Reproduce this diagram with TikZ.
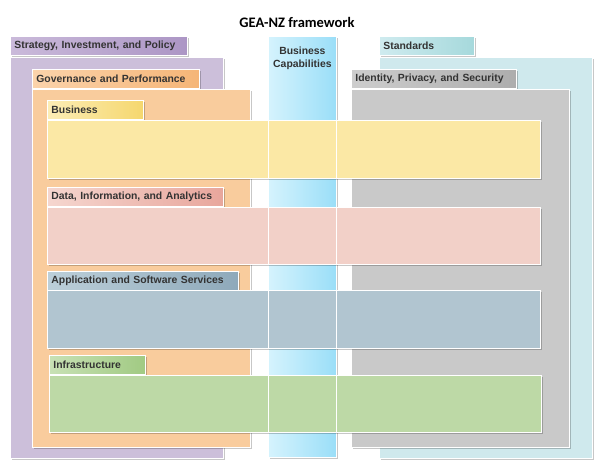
\documentclass[tikz,border=0pt]{standalone}
\usepackage{fontspec}
\setmainfont{Liberation Sans}
\newfontfamily\titlefont{Carlito}
\usetikzlibrary{shadows,positioning}
\definecolor{GNInk}{HTML}{333333}
\definecolor{GNPurple}{HTML}{CCBFDA}
\definecolor{GNPurpleL}{HTML}{CABADA}
\definecolor{GNPurpleD}{HTML}{AC96C5}
\definecolor{GNOrange}{HTML}{F9CC9D}
\definecolor{GNOrangeL}{HTML}{FBD3AB}
\definecolor{GNOrangeD}{HTML}{F5B577}
\definecolor{GNTeal}{HTML}{CFE9ED}
\definecolor{GNTealL}{HTML}{CFEBEF}
\definecolor{GNTealD}{HTML}{A6D9DC}
\definecolor{GNGray}{HTML}{C9C9C9}
\definecolor{GNGrayL}{HTML}{CDCDCD}
\definecolor{GNGrayD}{HTML}{ADADAD}
\definecolor{GNSkyL}{HTML}{D5F3FD}
\definecolor{GNSkyD}{HTML}{9ADEF8}
\definecolor{GNYellow}{HTML}{FBE8A5}
\definecolor{GNYellowL}{HTML}{FCEDB6}
\definecolor{GNYellowD}{HTML}{F5D76E}
\definecolor{GNPink}{HTML}{F2D0C8}
\definecolor{GNPinkL}{HTML}{F5D6CF}
\definecolor{GNPinkD}{HTML}{E8A69C}
\definecolor{GNSteel}{HTML}{B1C5D0}
\definecolor{GNSteelL}{HTML}{BCCFD9}
\definecolor{GNSteelD}{HTML}{8EA9BA}
\definecolor{GNGreen}{HTML}{BDD9A6}
\definecolor{GNGreenL}{HTML}{C8E1B5}
\definecolor{GNGreenD}{HTML}{A1CA83}
\tikzset{
  box/.style={draw=white,line width=0.8pt,rectangle,anchor=north west,inner sep=0pt,
              drop shadow={shadow xshift=2pt,shadow yshift=-2pt,fill=black,opacity=.22}},
  tab/.style={box,minimum height=19pt,inner xsep=4pt,text=GNInk,align=left,
              font=\fontsize{10.4}{12}\selectfont\bfseries},
  frame/.style={box},
  bar/.style={box},
  divider/.style={draw=white,line width=1pt},
  collabel/.style={text=GNInk,align=center,font=\fontsize{10.4}{13}\selectfont\bfseries},
  title/.style={text=black,font=\titlefont\fontsize{14.5}{17}\selectfont\bfseries},
}
\begin{document}
\begin{tikzpicture}[x=1pt,y=-1pt]
    \useasboundingbox (0,0) rectangle (600,468);
    \node[title] (head) at (297,22) {GEA-NZ framework};

    \node[tab,text width=169pt,left color=GNPurpleL,right color=GNPurpleD] (stratTab) at (10,36)
      {Strategy, Investment, and Policy};
    \node[frame,fill=GNPurple,minimum width=213pt,minimum height=401pt] (stratBody) at (10,57) {};
    \node[tab,text width=159pt,left color=GNOrangeL,right color=GNOrangeD] (govTab) at (32,69)
      {Governance and Performance};
    \node[frame,fill=GNOrange,minimum width=218pt,minimum height=358pt] (govBody) at (32,89) {};

    \node[tab,text width=87pt,left color=GNTealL,right color=GNTealD] (stdTab) at (379,36)
      {Standards};
    \node[frame,fill=GNTeal,minimum width=213pt,minimum height=401pt] (stdBody) at (379,57) {};
    \node[tab,text width=157pt,left color=GNGrayL,right color=GNGrayD] (idTab) at (351,69)
      {Identity, Privacy, and Security};
    \node[frame,fill=GNGray,minimum width=218pt,minimum height=358pt] (idBody) at (351,89) {};

    \node[frame,left color=GNSkyL,right color=GNSkyD,minimum width=68pt,minimum height=421pt] (capCol) at (268,36) {};
    \node[collabel,below=7pt of capCol.north] (capLbl) {Business\\Capabilities};

    \node[tab,text width=88pt,left color=GNYellowL,right color=GNYellowD] (bizTab) at (47,100)
      {Business};
    \node[bar,fill=GNYellow,minimum width=493pt,minimum height=58pt] (bizBar) at (47,120) {};
    \node[tab,text width=168pt,left color=GNPinkL,right color=GNPinkD] (dataTab) at (47,187)
      {Data, Information, and Analytics};
    \node[bar,fill=GNPink,minimum width=493pt,minimum height=57pt] (dataBar) at (47,207) {};
    \node[tab,text width=183pt,left color=GNSteelL,right color=GNSteelD] (appTab) at (47,271)
      {Application and Software Services};
    \node[bar,fill=GNSteel,minimum width=493pt,minimum height=58pt] (appBar) at (47,290) {};
    \node[tab,text width=88pt,left color=GNGreenL,right color=GNGreenD] (infraTab) at (49,355)
      {Infrastructure};
    \node[bar,fill=GNGreen,minimum width=492pt,minimum height=57pt] (infraBar) at (49,375) {};

    \foreach \b in {bizBar,dataBar,appBar,infraBar}{
      \draw[divider] (\b.north -| capCol.west) -- (\b.south -| capCol.west);
      \draw[divider] (\b.north -| capCol.east) -- (\b.south -| capCol.east);
    }
  \end{tikzpicture}
\end{document}
